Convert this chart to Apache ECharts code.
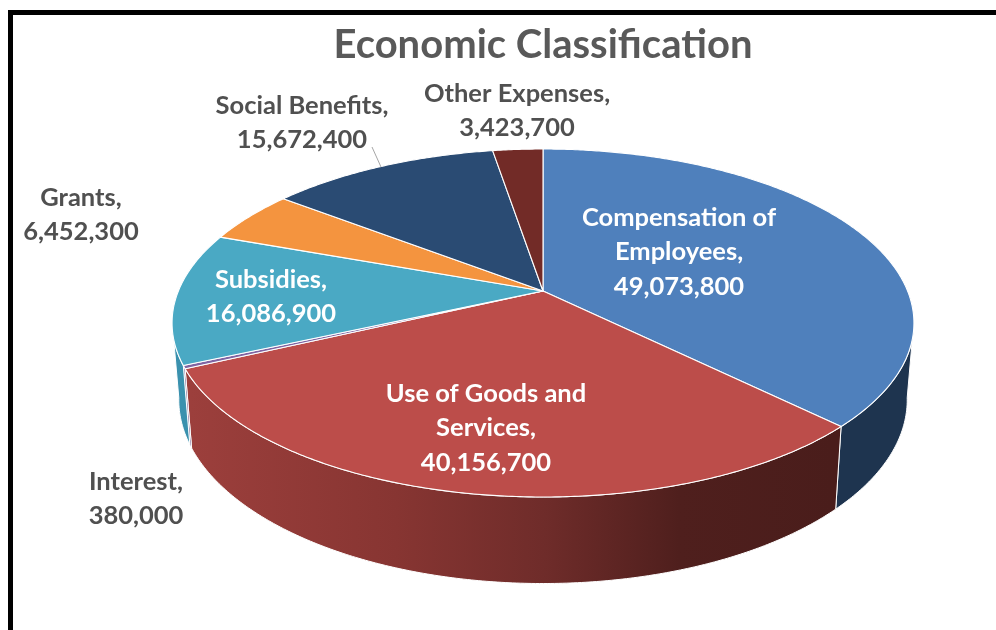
<!DOCTYPE html>
<html>
<head>
<meta charset="utf-8">
<style>html,body{margin:0;padding:0;background:#fff}#chart{width:996px;height:630px}</style>
<script src="https://cdn.jsdelivr.net/npm/echarts@6/dist/echarts.min.js"></script>
</head>
<body>
<div id="chart"></div>
<script>
// Budget by economic classification, clockwise from twelve o'clock.
const categories = ["Compensation of\nEmployees", "Use of Goods and\nServices", "Interest", "Subsidies", "Grants", "Social Benefits", "Other Expenses"];
const amounts = [49073800, 40156700, 380000, 16086900, 6452300, 15672400, 3423700];

// Appearance of each slice and the anchor of its label.
const topColors = ["#4F80BC", "#BC4D4A", "#8064A2", "#4AA9C4", "#F4943F", "#2A4B73", "#722B27"];
const sideColors = ["#1E344F", null, "#6A5388", "#3A91AE", "#C8762F", "#1E344F", "#5A211E"];
const labelColors = ["#fff", "#fff", "#505050", "#fff", "#505050", "#505050", "#505050"];
const labelAnchors = [[679, 252], [486, 428], [136, 499], [271, 297], [81, 215], [302, 123], [517, 111]];

// Rim of the disc under perspective: the apex sits above the ellipse centre.
const FORE = 0.184, APEX_X = 543;
const topRim = { y: 291, sx: 364.6, sy: 168.1 };
const baseRim = { y: 366, sx: 358, sy: 177.5 };
const VISIBLE_SIDE = [100, 260];

function project(rim, deg) {
  const t = deg * Math.PI / 180;
  const u = Math.sin(t), v = Math.cos(t), d = 1 + FORE * v;
  return [APEX_X + rim.sx * u / d, rim.y - rim.sy * v / d];
}
function arc(rim, from, to) {
  const pts = [], n = Math.max(2, Math.ceil(Math.abs(to - from) * 2));
  for (let i = 0; i <= n; i++) pts.push(project(rim, from + (to - from) * i / n));
  return pts;
}

const total = amounts.reduce((a, b) => a + b, 0);
let running = 0;
const sliceRows = amounts.map((v, i) => {
  const start = running / total * 360;
  running += v;
  return [start, running / total * 360, i];
});

// The front wall of the large red slice fades from left to right.
const redWall = {
  type: 'linear', x: 190, y: 0, x2: 834, y2: 0, global: true,
  colorStops: [
    { offset: 0, color: '#9C3F3C' }, { offset: 0.32, color: '#873532' },
    { offset: 0.55, color: '#6F2C2A' }, { offset: 0.76, color: '#4F1F1D' },
    { offset: 1, color: '#4A1D1B' }
  ]
};

function renderSide(params, api) {
  const a = Math.max(api.value(0), VISIBLE_SIDE[0]);
  const b = Math.min(api.value(1), VISIBLE_SIDE[1]);
  const i = api.value(2);
  if (b <= a) return { type: 'group', children: [] };
  const points = arc(topRim, a, b).concat(arc(baseRim, b, a));
  return {
    type: 'polygon',
    shape: { points },
    style: { fill: sideColors[i] || redWall, stroke: '#fff', lineWidth: 1 }
  };
}

function renderTop(params, api) {
  const a = api.value(0), b = api.value(1), i = api.value(2);
  const points = [[APEX_X, topRim.y]].concat(arc(topRim, a, b));
  return {
    type: 'polygon',
    shape: { points },
    style: { fill: topColors[i], stroke: '#fff', lineWidth: 1.1, lineJoin: 'round' }
  };
}

function renderLabel(params, api) {
  const i = api.value(2);
  return {
    type: 'text',
    style: {
      text: categories[i] + ",\n" + amounts[i].toLocaleString('en-US'),
      x: labelAnchors[i][0], y: labelAnchors[i][1],
      align: 'center', verticalAlign: 'middle',
      fill: labelColors[i],
      font: 'bold 25.5px Lato, sans-serif',
      lineHeight: 34.5
    }
  };
}

const chart = echarts.init(document.getElementById('chart'), null, { renderer: 'canvas' });
chart.setOption({
  backgroundColor: '#fff',
  animation: false,
  title: {
    text: 'Economic Classification', left: 538, top: 20, textAlign: 'center',
    textStyle: { color: '#595959', fontFamily: 'Lato, sans-serif', fontWeight: 'bold', fontSize: 40 }
  },
  graphic: [
    { type: 'rect', silent: true, shape: { x: 10.5, y: 12.5, width: 1100, height: 800 },
      style: { fill: 'none', stroke: '#000', lineWidth: 5 } },
    { type: 'line', silent: true, shape: { x1: 372, y1: 147, x2: 381, y2: 167 },
      style: { stroke: '#A6A6A6', lineWidth: 1 }, z: 10 }
  ],
  series: [
    { type: 'custom', name: 'Walls', coordinateSystem: 'none', renderItem: renderSide, data: sliceRows, silent: true, z: 2 },
    { type: 'custom', name: 'Slices', coordinateSystem: 'none', renderItem: renderTop, data: sliceRows, silent: true, z: 3 },
    { type: 'custom', name: 'Labels', coordinateSystem: 'none', renderItem: renderLabel, data: sliceRows, silent: true, z: 4 }
  ]
});
</script>
</body>
</html>
